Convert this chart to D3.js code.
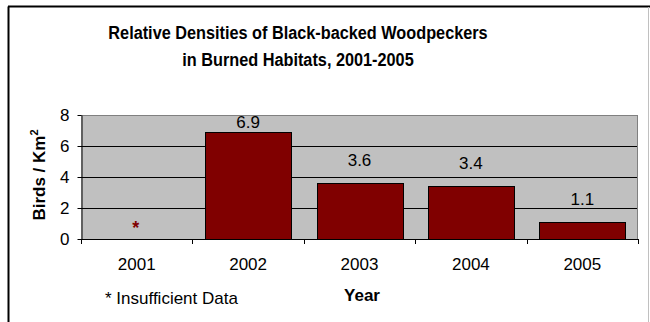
<!DOCTYPE html>
<html>
  <head>
    <meta charset="utf-8">
    <style>
      body { margin: 0; background: #fff; }
      text { font-family: "Liberation Sans", Arial, sans-serif; fill: #000; }
      .title { font-weight: bold; font-size: 18.5px; }
      .tick text { font-size: 17px; font-family: "Liberation Sans", Arial, sans-serif; }
      .label { font-size: 17px; }
      .axisTitle { font-weight: bold; font-size: 17px; }
    </style>
    <script src="https://cdnjs.cloudflare.com/ajax/libs/d3/7.8.5/d3.min.js"></script>
  </head>
  <body>
    <svg width="650" height="322" id="SVG"></svg>
    <script>
      var years = ["2001", "2002", "2003", "2004", "2005"];
      var density = [null, 6.9, 3.6, 3.4, 1.1];
      var yTicks = [0, 2, 4, 6, 8];

      var svg = d3.select("#SVG");

      // outer chart frame
      svg.append("line").attr("x1", 8.5).attr("y1", 6.5).attr("x2", 8.5).attr("y2", 322)
         .attr("stroke", "#000").attr("stroke-width", 2);
      svg.append("line").attr("x1", 8).attr("y1", 6.5).attr("x2", 650).attr("y2", 6.5)
         .attr("stroke", "#000").attr("stroke-width", 2);
      svg.append("line").attr("x1", 648.5).attr("y1", 7).attr("x2", 648.5).attr("y2", 322)
         .attr("stroke", "#c0c0c0").attr("stroke-width", 1);

      var plot = { left: 81, right: 638, top: 115, bottom: 239 };

      var x = d3.scaleBand().domain(years)
                .range([plot.left, plot.right])
                .paddingInner(0.23).paddingOuter(0.115);
      var y = d3.scaleLinear().domain([0, 8]).range([plot.bottom, plot.top]);

      svg.append("rect")
         .attr("x", plot.left).attr("y", plot.top)
         .attr("width", plot.right - plot.left).attr("height", plot.bottom - plot.top)
         .attr("fill", "#c0c0c0");

      // gridlines
      svg.append("g")
         .selectAll("line")
         .data(yTicks.filter(function(d) { return d > 0 && d < 8 }))
         .join("line")
         .attr("x1", plot.left).attr("x2", plot.right)
         .attr("y1", function(d) { return Math.round(y(d)) + 0.5 })
         .attr("y2", function(d) { return Math.round(y(d)) + 0.5 })
         .attr("stroke", "#000");

      svg.append("line")
         .attr("x1", plot.left).attr("x2", plot.right)
         .attr("y1", plot.top + 0.5).attr("y2", plot.top + 0.5)
         .attr("stroke", "#808080");
      svg.append("line")
         .attr("x1", plot.right - 0.5).attr("x2", plot.right - 0.5)
         .attr("y1", plot.top).attr("y2", plot.bottom)
         .attr("stroke", "#808080");

      var data = years.map(function(yr, i) { return { year: yr, value: density[i] } });

      svg.append("g")
         .selectAll("rect")
         .data(data.filter(function(d) { return d.value !== null }))
         .join("rect")
         .attr("x", function(d) { return Math.round(x(d.year)) + 0.5 })
         .attr("y", function(d) { return Math.round(y(d.value)) + 0.5 })
         .attr("width", Math.round(x.bandwidth()))
         .attr("height", function(d) { return Math.round(plot.bottom - y(d.value)) })
         .attr("fill", "#800000")
         .attr("stroke", "#000")
         .attr("stroke-width", 1);

      svg.append("g")
         .selectAll("text")
         .data(data.filter(function(d) { return d.value !== null }))
         .join("text")
         .attr("class", "label")
         .attr("text-anchor", "middle")
         .attr("x", function(d) { return x(d.year) + x.bandwidth() / 2 })
         .attr("y", function(d) { return Math.max(y(d.value) - 17, plot.top + 13) })
         .text(function(d) { return d.value.toFixed(1) });

      // missing value marker
      svg.append("text")
         .attr("text-anchor", "middle")
         .attr("x", x("2001") + x.bandwidth() / 2 - 1)
         .attr("y", y(0) - 5)
         .attr("font-size", 18)
         .attr("font-weight", "bold")
         .style("fill", "#800000")
         .text("*");

      var yAxis = svg.append("g")
         .attr("transform", "translate(" + (plot.left + 0.5) + ",0)")
         .call(d3.axisLeft(y).tickValues(yTicks).tickSize(4).tickPadding(8).tickSizeOuter(0));
      yAxis.select(".domain").attr("stroke", "#000");

      var xAxis = svg.append("g")
         .attr("transform", "translate(0," + (plot.bottom + 0.5) + ")")
         .call(d3.axisBottom(x).tickSize(0).tickPadding(18));
      xAxis.select(".domain").remove();
      xAxis.selectAll(".tick line").remove();

      // category separators below axis
      svg.append("g")
         .selectAll("line")
         .data(years.concat(["end"]))
         .join("line")
         .attr("x1", function(d, i) { return Math.round(plot.left + i * x.step()) + 0.5 })
         .attr("x2", function(d, i) { return Math.round(plot.left + i * x.step()) + 0.5 })
         .attr("y1", plot.bottom).attr("y2", plot.bottom + 5)
         .attr("stroke", "#000");
      svg.append("line")
         .attr("x1", plot.left).attr("x2", plot.right)
         .attr("y1", plot.bottom + 0.5).attr("y2", plot.bottom + 0.5)
         .attr("stroke", "#000");

      // title is drawn slightly condensed, like the original
      svg.append("text").attr("class", "title").attr("text-anchor", "middle")
         .attr("transform", "translate(298,39) scale(0.88,1)")
         .text("Relative Densities of Black-backed Woodpeckers");
      svg.append("text").attr("class", "title").attr("text-anchor", "middle")
         .attr("transform", "translate(298,66) scale(0.88,1)")
         .text("in Burned Habitats, 2001-2005");

      svg.append("text").attr("class", "axisTitle").attr("text-anchor", "middle")
         .attr("x", 362).attr("y", 301)
         .text("Year");

      var yt = svg.append("text").attr("class", "axisTitle").attr("text-anchor", "middle")
         .attr("transform", "translate(45," + ((plot.top + plot.bottom) / 2 - 2) + ") rotate(-90)");
      yt.append("tspan").text("Birds / Km");
      yt.append("tspan").attr("dy", -7).attr("font-size", 11).text("2");

      svg.append("text").attr("class", "label")
         .attr("x", 105).attr("y", 304)
         .text("* Insufficient Data");
    </script>
  </body>
</html>
